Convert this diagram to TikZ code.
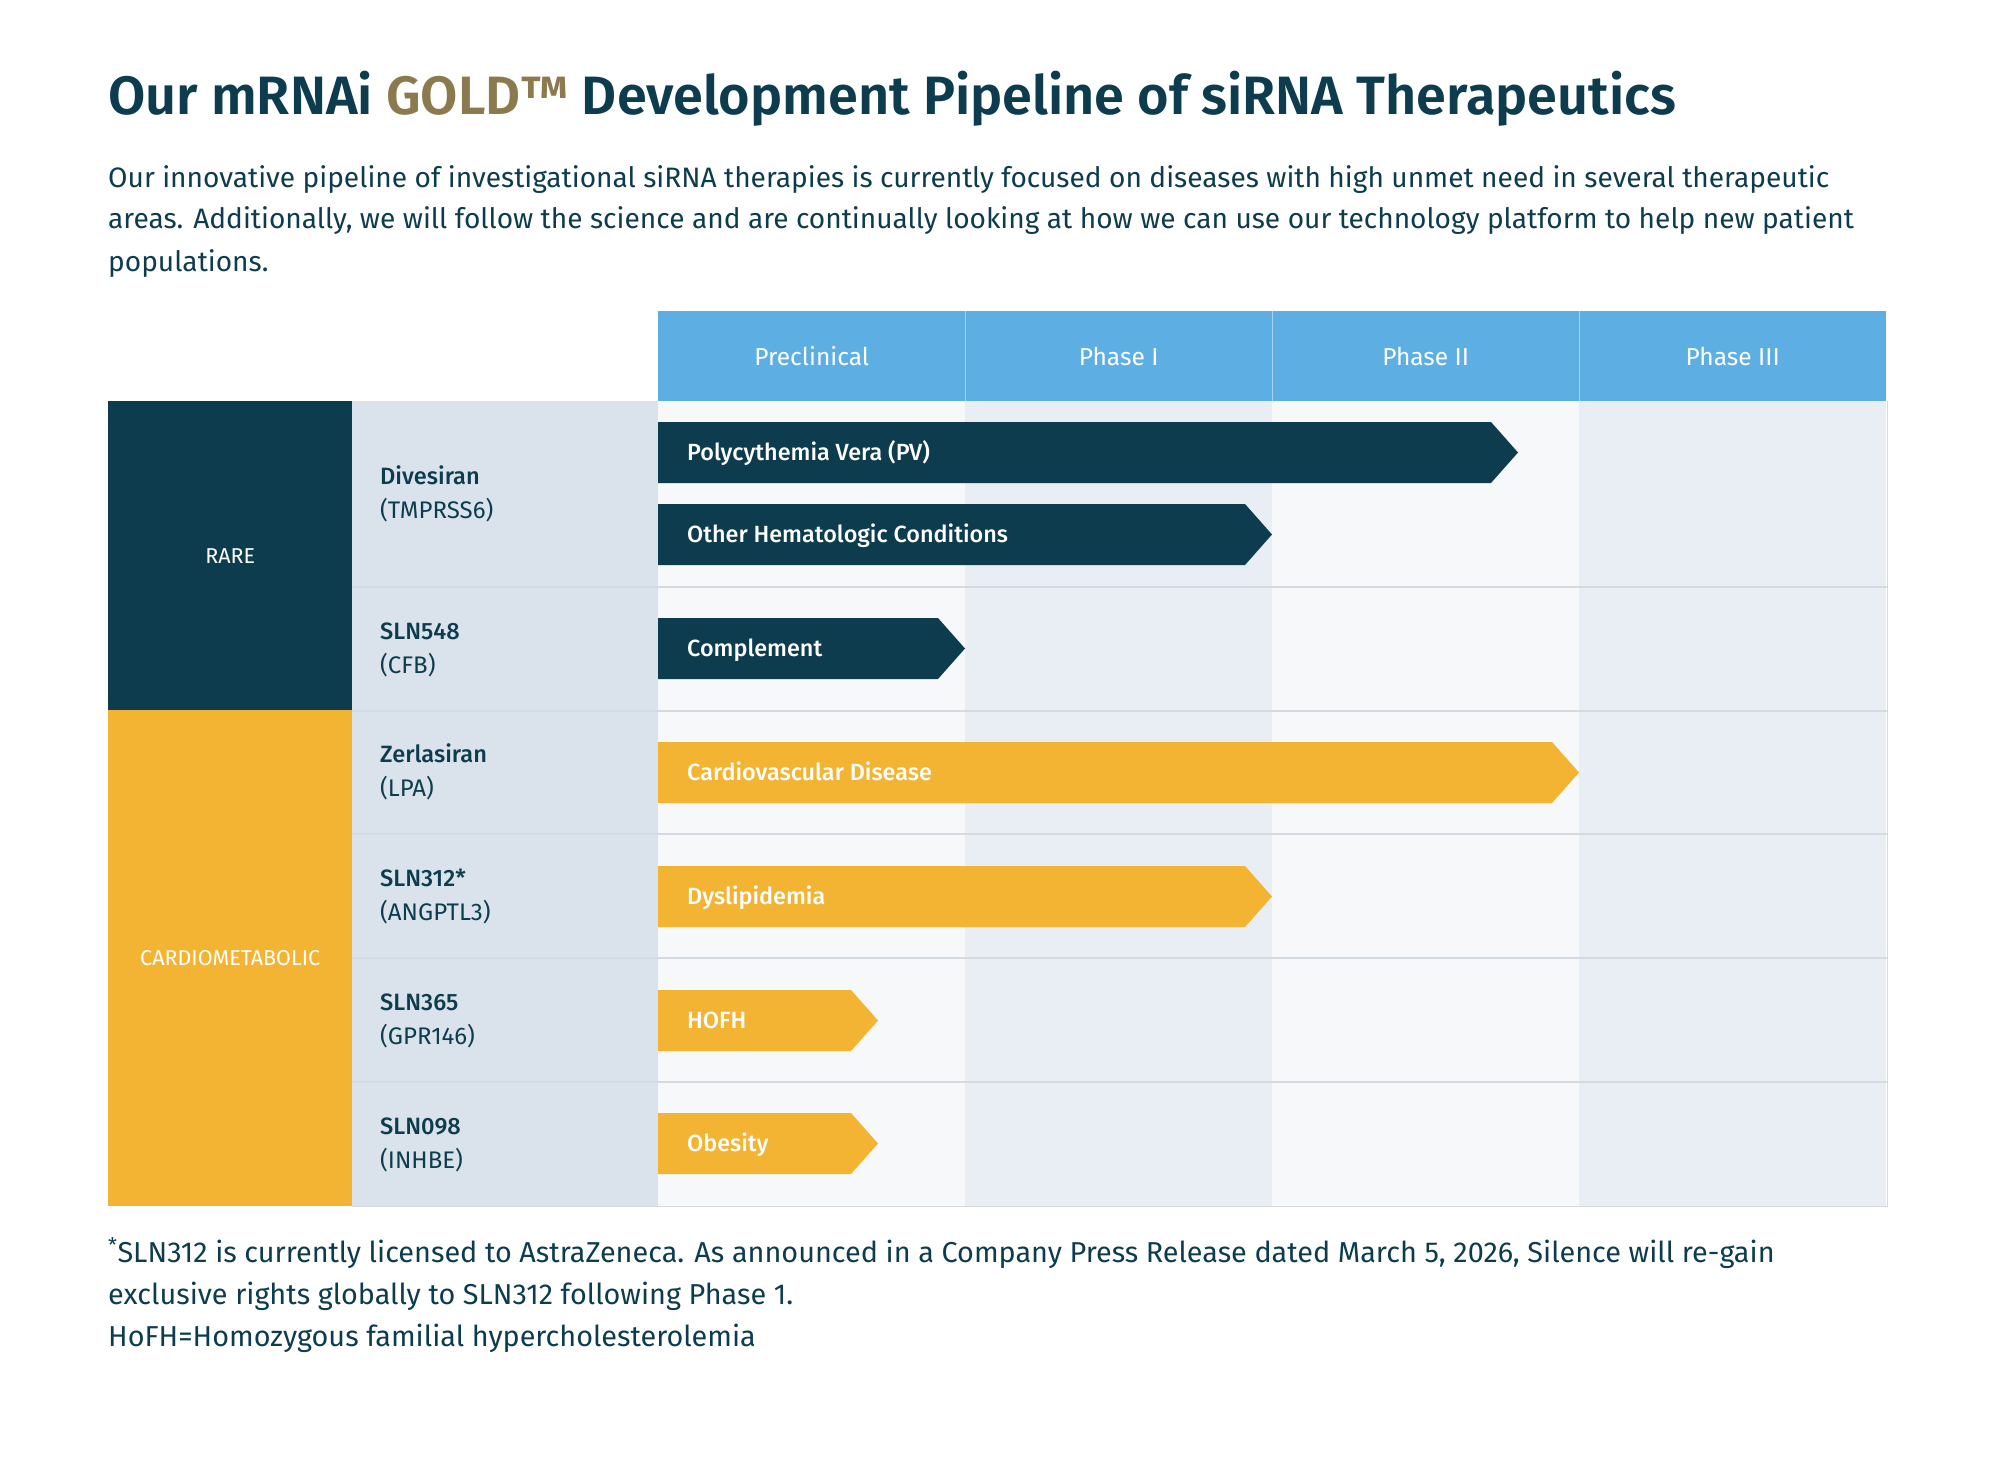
\documentclass[tikz,border=0pt]{standalone}
\usepackage{fontspec}
\setmainfont{Fira Sans}
\newfontfamily\medfont{Fira Sans Medium}
\newfontfamily\semifont{Fira Sans SemiBold}
\usepackage{tikz}
\usetikzlibrary{positioning,calc}
\definecolor{DeepTeal}{HTML}{0D3C4E}
\definecolor{GoldText}{HTML}{8C7A4F}
\definecolor{PhaseBlue}{HTML}{5DAFE3}
\definecolor{SepBlue}{HTML}{A6D3F1}
\definecolor{BarGold}{HTML}{F4B433}
\definecolor{DrugGrey}{HTML}{DAE3EB}
\definecolor{ColLight}{HTML}{F6F8FA}
\definecolor{ColDark}{HTML}{E8EEF4}
\definecolor{RuleGrey}{HTML}{D3DAE1}
\tikzset{
  phasehd/.style={rectangle, fill=PhaseBlue, text=white, minimum width=307pt,
    minimum height=90pt, inner sep=0pt, anchor=north west, font=\fontsize{24.5}{28}\selectfont},
  catcell/.style={rectangle, text=white, minimum width=244pt, inner sep=0pt,
    anchor=north west, font=\fontsize{21.5}{24}\selectfont},
  drugname/.style={anchor=base west, inner sep=0pt, text=DeepTeal, font=\medfont\fontsize{23.6}{27}\selectfont},
  druggene/.style={anchor=base west, inner sep=0pt, text=DeepTeal, font=\fontsize{24}{27}\selectfont},
  bartext/.style={anchor=base west, inner sep=0pt, text=white, font=\medfont\fontsize{23.4}{27}\selectfont},
  bodytext/.style={anchor=base west, inner sep=0pt, text=DeepTeal, font=\fontsize{28.1}{41}\selectfont},
  notetext/.style={bodytext, font=\fontsize{28.8}{41}\selectfont},
  rowrule/.style={draw=RuleGrey, line width=1.5pt}
}
% one pipeline bar: name, centre y, tip x, colour, label
\newcommand\pipebar[5]{%
  \fill[#4] (658,#2-30.5) -- (#3-27,#2-30.5) -- (#3,#2) -- (#3-27,#2+30.5) -- (658,#2+30.5) -- cycle;
  \node[bartext] (#1) at (687,#2+8) {#5};}

\begin{document}
\begin{tikzpicture}[x=1pt, y=-1pt]
  \useasboundingbox[fill=white] (0,0) rectangle (2000,1466);
  % heading
  \node[anchor=base west, inner sep=0pt, text=DeepTeal, font=\semifont\fontsize{54}{60}\selectfont] (title) at (108,115)
    {Our mRNAi \textcolor{GoldText}{GOLD™} Development Pipeline of siRNA Therapeutics};
  \node[bodytext] (intro1) at (108,188) {Our innovative pipeline of investigational siRNA therapies is currently focused on diseases with high unmet need in several therapeutic};
  \node[bodytext] (intro2) at (108,229) {areas. Additionally, we will follow the science and are continually looking at how we can use our technology platform to help new patient};
  \node[bodytext] (intro3) at (108,271) {populations.};

  % table background
  \fill[DrugGrey] (352,401) rectangle (658,1206);
  \foreach \x/\col in {658/ColLight, 965/ColDark, 1272/ColLight, 1579/ColDark}
    \fill[\col] (\x,401) rectangle (\x+307,1206);
  \foreach \y in {587,711,834,958,1082}
    \draw[rowrule] (352,\y) -- (1887,\y);
  \draw[RuleGrey, line width=1pt] (352,1206) -- (1887,1206) -- (1887,401);

  % phase header
  \foreach \ph [count=\i from 0] in {Preclinical, Phase I, Phase II, Phase III}
    \node[phasehd] (ph\i) at (658+307*\i,311) {\ph};
  \foreach \x in {965,1272,1579}
    \draw[SepBlue, line width=1pt] (\x,311) -- (\x,401);

  % therapeutic areas
  \node[catcell, fill=DeepTeal, minimum height=309pt] (rare) at (108,401) {RARE};
  \node[catcell, fill=BarGold, minimum height=496pt] (cardio) at (108,710) {CARDIOMETABOLIC};

  % candidates
  \foreach \nm/\gene/\yc [count=\i] in {Divesiran/(TMPRSS6)/494, SLN548/(CFB)/649,
      Zerlasiran/(LPA)/772, SLN312*/(ANGPTL3)/896, SLN365/(GPR146)/1020, SLN098/(INHBE)/1144} {
    \node[drugname] (drug\i) at (380,\yc-10) {\nm};
    \node[druggene] (gene\i) at (380,\yc+24) {\gene};
  }

  % programmes
  \pipebar{pv}{452.5}{1518}{DeepTeal}{Polycythemia Vera (PV)}
  \pipebar{ohc}{534.5}{1272}{DeepTeal}{Other Hematologic Conditions}
  \pipebar{cmp}{648.5}{965}{DeepTeal}{Complement}
  \pipebar{cvd}{772.5}{1579}{BarGold}{Cardiovascular Disease}
  \pipebar{dys}{896.5}{1272}{BarGold}{Dyslipidemia}
  \pipebar{hofh}{1020.5}{878}{BarGold}{HOFH}
  \pipebar{obs}{1143.5}{878}{BarGold}{Obesity}

  % footnotes
  \node[notetext] (note1) at (108,1262) {\textsuperscript{*}SLN312 is currently licensed to AstraZeneca. As announced in a Company Press Release dated March 5, 2026, Silence will re-gain};
  \node[notetext] (note2) at (108,1304) {exclusive rights globally to SLN312 following Phase 1.};
  \node[notetext] (note3) at (108,1346) {HoFH=Homozygous familial hypercholesterolemia};
\end{tikzpicture}
\end{document}
